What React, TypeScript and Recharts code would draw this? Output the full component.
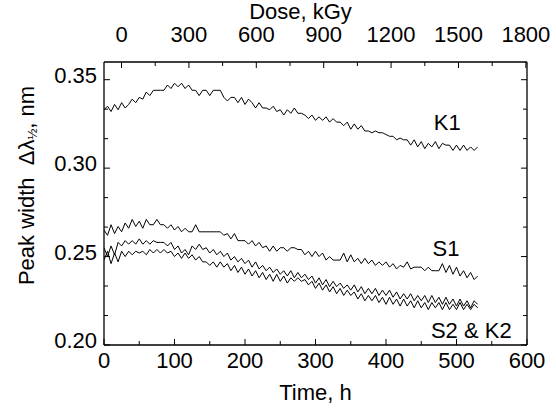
import React from 'react';
import { LineChart, Line, XAxis, YAxis, ReferenceDot } from 'recharts';

const FONT = '"Liberation Sans", Arial, Helvetica, sans-serif';

// Time, h
const timeH = [
  0, 5, 10, 15, 20, 25, 30, 35, 40, 45, 50, 55, 60, 65, 70, 75, 80, 85, 90, 95,
  100, 105, 110, 115, 120, 125, 130, 135, 140, 145, 150, 155, 160, 165, 170, 175, 180, 185, 190, 195,
  200, 205, 210, 215, 220, 225, 230, 235, 240, 245, 250, 255, 260, 265, 270, 275, 280, 285, 290, 295,
  300, 305, 310, 315, 320, 325, 330, 335, 340, 345, 350, 355, 360, 365, 370, 375, 380, 385, 390, 395,
  400, 405, 410, 415, 420, 425, 430, 435, 440, 445, 450, 455, 460, 465, 470, 475, 480, 485, 490, 495,
  500, 505, 510, 515, 520, 525, 530,
];

// Peak width, nm
const k1 = [
  0.333, 0.335, 0.332, 0.336, 0.333, 0.337, 0.334, 0.336, 0.339, 0.337, 0.340, 0.339, 0.343, 0.341, 0.344, 0.344, 0.344, 0.344, 0.347, 0.345,
  0.348, 0.346, 0.348, 0.345, 0.347, 0.344, 0.344, 0.341, 0.344, 0.344, 0.341, 0.344, 0.344, 0.344, 0.340, 0.338, 0.340, 0.340, 0.337, 0.340,
  0.336, 0.339, 0.337, 0.334, 0.337, 0.334, 0.334, 0.333, 0.335, 0.332, 0.333, 0.330, 0.333, 0.331, 0.334, 0.331, 0.331, 0.330, 0.328, 0.330,
  0.327, 0.329, 0.327, 0.329, 0.326, 0.328, 0.326, 0.326, 0.324, 0.326, 0.322, 0.325, 0.322, 0.324, 0.321, 0.321, 0.320, 0.321, 0.320, 0.320,
  0.319, 0.318, 0.318, 0.316, 0.317, 0.316, 0.316, 0.313, 0.316, 0.312, 0.315, 0.311, 0.314, 0.312, 0.315, 0.311, 0.314, 0.313, 0.313, 0.310,
  0.313, 0.310, 0.313, 0.310, 0.312, 0.310, 0.312,
];

const s1 = [
  0.265, 0.262, 0.268, 0.263, 0.267, 0.264, 0.269, 0.266, 0.271, 0.267, 0.270, 0.266, 0.271, 0.268, 0.268, 0.271, 0.268, 0.268, 0.266, 0.268,
  0.265, 0.267, 0.264, 0.266, 0.264, 0.264, 0.268, 0.264, 0.264, 0.264, 0.264, 0.264, 0.264, 0.264, 0.262, 0.263, 0.260, 0.263, 0.259, 0.259,
  0.259, 0.257, 0.259, 0.256, 0.258, 0.255, 0.256, 0.253, 0.256, 0.253, 0.255, 0.255, 0.253, 0.255, 0.255, 0.254, 0.254, 0.251, 0.253, 0.250,
  0.253, 0.250, 0.252, 0.248, 0.250, 0.248, 0.248, 0.248, 0.252, 0.247, 0.251, 0.247, 0.249, 0.246, 0.249, 0.246, 0.248, 0.245, 0.247, 0.245,
  0.247, 0.244, 0.246, 0.243, 0.245, 0.244, 0.247, 0.243, 0.244, 0.244, 0.244, 0.242, 0.244, 0.242, 0.242, 0.242, 0.246, 0.241, 0.245, 0.240,
  0.244, 0.239, 0.242, 0.238, 0.241, 0.237, 0.239,
];

const s2 = [
  0.255, 0.250, 0.256, 0.251, 0.258, 0.256, 0.259, 0.257, 0.259, 0.257, 0.260, 0.257, 0.259, 0.257, 0.259, 0.258, 0.258, 0.258, 0.256, 0.258,
  0.254, 0.256, 0.252, 0.254, 0.251, 0.256, 0.254, 0.257, 0.254, 0.255, 0.252, 0.254, 0.251, 0.253, 0.250, 0.252, 0.248, 0.250, 0.247, 0.249,
  0.246, 0.248, 0.244, 0.247, 0.243, 0.245, 0.242, 0.244, 0.241, 0.243, 0.240, 0.242, 0.239, 0.242, 0.238, 0.241, 0.238, 0.240, 0.237, 0.239,
  0.235, 0.238, 0.234, 0.237, 0.233, 0.236, 0.233, 0.235, 0.232, 0.234, 0.231, 0.234, 0.230, 0.233, 0.229, 0.232, 0.229, 0.232, 0.228, 0.231,
  0.228, 0.231, 0.227, 0.230, 0.226, 0.229, 0.226, 0.229, 0.225, 0.228, 0.225, 0.228, 0.224, 0.228, 0.224, 0.227, 0.223, 0.227, 0.223, 0.226,
  0.222, 0.226, 0.222, 0.225, 0.221, 0.225, 0.223,
];

const k2 = [
  0.248, 0.253, 0.246, 0.252, 0.247, 0.253, 0.250, 0.253, 0.251, 0.253, 0.252, 0.253, 0.251, 0.254, 0.252, 0.254, 0.252, 0.254, 0.252, 0.253,
  0.250, 0.252, 0.249, 0.252, 0.249, 0.251, 0.248, 0.250, 0.247, 0.247, 0.245, 0.247, 0.244, 0.247, 0.244, 0.246, 0.242, 0.245, 0.241, 0.244,
  0.240, 0.243, 0.239, 0.242, 0.238, 0.241, 0.237, 0.240, 0.236, 0.240, 0.236, 0.239, 0.235, 0.238, 0.236, 0.238, 0.236, 0.237, 0.234, 0.236,
  0.232, 0.235, 0.231, 0.234, 0.230, 0.233, 0.229, 0.232, 0.228, 0.231, 0.228, 0.230, 0.226, 0.229, 0.225, 0.228, 0.225, 0.228, 0.224, 0.227,
  0.223, 0.227, 0.223, 0.226, 0.222, 0.226, 0.222, 0.225, 0.221, 0.225, 0.221, 0.224, 0.220, 0.224, 0.221, 0.224, 0.220, 0.224, 0.220, 0.223,
  0.220, 0.224, 0.220, 0.223, 0.220, 0.223, 0.221,
];

const timeTicks = [0, 50, 100, 150, 200, 250, 300, 350, 400, 450, 500, 550, 600];
const timeLabelled = [0, 100, 200, 300, 400, 500, 600];
const doseTicks = [0, 150, 300, 450, 600, 750, 900, 1050, 1200, 1350, 1500, 1650, 1800];
const doseLabelled = [0, 300, 600, 900, 1200, 1500, 1800];
const widthTicks = [0.2, 0.216667, 0.233333, 0.25, 0.266667, 0.283333, 0.3, 0.316667, 0.333333, 0.35];
const widthLabelled = ['0.20', '0.25', '0.30', '0.35'];

const seriesLabels = [
  { name: 'K1', t: 487, w: 0.3258 },
  { name: 'S1', t: 485, w: 0.255 },
  { name: 'S2 & K2', t: 521, w: 0.2085 },
];

const rows = timeH.map((t, i) => ({ t, k1: k1[i], s1: s1[i], s2: s2[i], k2: k2[i] }));

const TICK_FS = 22;

const BottomTick = (props: any) => {
  const { x, y, payload } = props;
  const v = payload.value;
  const major = timeLabelled.includes(v);
  return (
    <g>
      <line x1={x} x2={x} y1={y} y2={y - (major ? 6 : 4)} stroke="#000" strokeWidth={1} />
      {major && (
        <text x={x} y={y + 23} textAnchor="middle" fontSize={TICK_FS} fontFamily={FONT} fill="#000">
          {v}
        </text>
      )}
    </g>
  );
};

const TopTick = (props: any) => {
  const { x, y, payload } = props;
  const v = payload.value;
  const major = doseLabelled.includes(v);
  return (
    <g>
      <line x1={x} x2={x} y1={y} y2={y + (major ? 6 : 4)} stroke="#000" strokeWidth={1} />
      {major && (
        <text x={x} y={y - 20} textAnchor="middle" fontSize={TICK_FS} fontFamily={FONT} fill="#000">
          {v}
        </text>
      )}
    </g>
  );
};

const LeftTick = (props: any) => {
  const { x, y, payload } = props;
  const v: number = payload.value;
  const txt = v.toFixed(2);
  const major = widthLabelled.includes(txt) && Math.abs(v - Number(txt)) < 1e-4;
  return (
    <g>
      <line x1={x} x2={x + (major ? 6 : 4)} y1={y} y2={y} stroke="#000" strokeWidth={1} />
      {major && (
        <text x={x - 7} y={y + 3} textAnchor="end" fontSize={TICK_FS} fontFamily={FONT} fill="#000">
          {txt}
        </text>
      )}
    </g>
  );
};

const RightTick = (props: any) => {
  const { x, y, payload } = props;
  const v: number = payload.value;
  const txt = v.toFixed(2);
  const major = widthLabelled.includes(txt) && Math.abs(v - Number(txt)) < 1e-4;
  return <line x1={x} x2={x - (major ? 6 : 4)} y1={y} y2={y} stroke="#000" strokeWidth={1} />;
};

const TimeTitle = (props: any) => {
  const vb = props.viewBox || {};
  return (
    <text x={vb.x + vb.width / 2} y={vb.y + 55} textAnchor="middle" fontSize={22} fontFamily={FONT} fill="#000">
      Time, h
    </text>
  );
};

const DoseTitle = (props: any) => {
  const vb = props.viewBox || {};
  return (
    <text x={vb.x + vb.width / 2 - 15} y={vb.y + 19} textAnchor="middle" fontSize={22} fontFamily={FONT} fill="#000">
      Dose, kGy
    </text>
  );
};

const WidthTitle = (props: any) => {
  const vb = props.viewBox || {};
  const cx = vb.x + 26;
  const cy = vb.y + vb.height / 2 - 18;
  return (
    <text
      x={cx}
      y={cy}
      transform={`rotate(-90 ${cx} ${cy})`}
      textAnchor="middle"
      fontSize={22}
      fontFamily={FONT}
      fill="#000"
      dominantBaseline="central"
      style={{ whiteSpace: 'pre' }}
    >
      {'Peak width\u00A0\u00A0Δλ'}
      <tspan fontSize={13} dy={6}>½</tspan>
      <tspan dy={-6}>, nm</tspan>
    </text>
  );
};

export default function App() {
  return (
    <div style={{ position: 'absolute', left: 0, top: 0, width: 556, height: 414, background: '#fff' }}>
      <LineChart width={556} height={414} data={rows} margin={{ top: 0, right: 0, bottom: 0, left: 0 }}>
        <XAxis
          dataKey="t"
          type="number"
          domain={[0, 600]}
          allowDataOverflow
          ticks={timeTicks}
          interval={0}
          height={69}
          tickSize={0}
          tickMargin={0}
          tickLine={false}
          axisLine={{ stroke: '#000', strokeWidth: 1.3 }}
          tick={<BottomTick />}
          label={<TimeTitle />}
        />
        <XAxis
          xAxisId="dose"
          dataKey="t"
          orientation="top"
          type="number"
          domain={[-78, 1805]}
          allowDataOverflow
          ticks={doseTicks}
          interval={0}
          height={62}
          tickSize={0}
          tickMargin={0}
          tickLine={false}
          axisLine={{ stroke: '#000', strokeWidth: 1.3 }}
          tick={<TopTick />}
          label={<DoseTitle />}
        />
        <YAxis
          type="number"
          domain={[0.2, 0.36]}
          allowDataOverflow
          ticks={widthTicks}
          interval={0}
          width={104}
          tickSize={0}
          tickMargin={0}
          tickLine={false}
          axisLine={{ stroke: '#000', strokeWidth: 1.3 }}
          tick={<LeftTick />}
          label={<WidthTitle />}
        />
        <YAxis
          yAxisId="right"
          orientation="right"
          type="number"
          domain={[0.2, 0.36]}
          allowDataOverflow
          ticks={widthTicks}
          interval={0}
          width={29}
          tickSize={0}
          tickMargin={0}
          tickLine={false}
          axisLine={{ stroke: '#000', strokeWidth: 1.3 }}
          tick={<RightTick />}
        />
        <Line
          xAxisId="dose"
          yAxisId="right"
          dataKey="k1"
          stroke="none"
          dot={false}
          activeDot={false}
          legendType="none"
          isAnimationActive={false}
        />
        <Line dataKey="k1" stroke="#000" strokeWidth={1} dot={false} isAnimationActive={false} type="linear" />
        <Line dataKey="s1" stroke="#000" strokeWidth={1} dot={false} isAnimationActive={false} type="linear" />
        <Line dataKey="s2" stroke="#000" strokeWidth={1} dot={false} isAnimationActive={false} type="linear" />
        <Line dataKey="k2" stroke="#000" strokeWidth={1} dot={false} isAnimationActive={false} type="linear" />
        {seriesLabels.map((l) => (
          <ReferenceDot
            key={l.name}
            x={l.t}
            y={l.w}
            r={0}
            fill="none"
            stroke="none"
            ifOverflow="visible"
            label={{ value: l.name, position: 'center', fontSize: 22, fill: '#000', fontFamily: FONT }}
          />
        ))}
      </LineChart>
    </div>
  );
}
